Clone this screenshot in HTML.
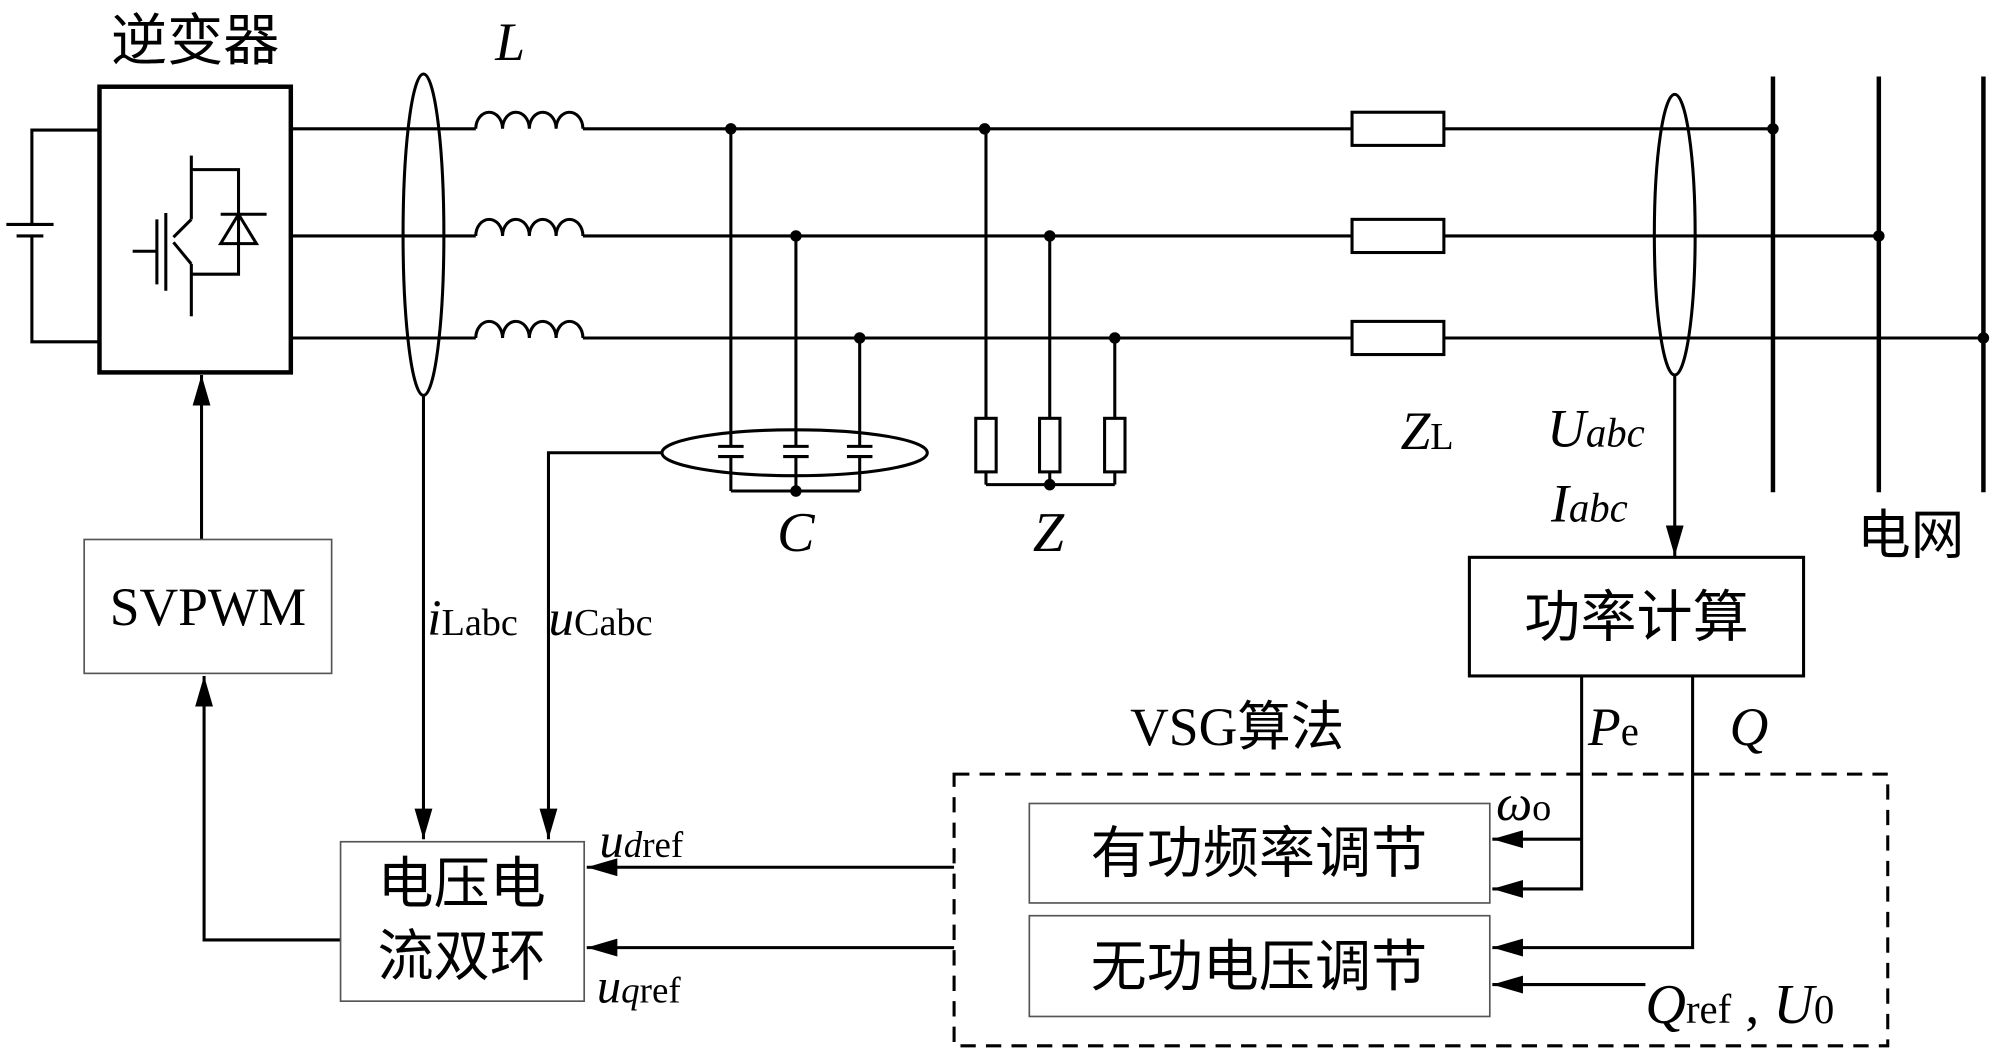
<!DOCTYPE html>
<html><head><meta charset="utf-8"><style>
html,body{margin:0;padding:0;background:#fff;}
svg{display:block;}
text{font-family:"Liberation Serif","Noto Serif CJK SC",serif;fill:#000;}
.cjk{font-family:"Liberation Serif","Noto Sans CJK SC",sans-serif;}
</style></head><body>
<svg width="2000" height="1056" viewBox="0 0 1568 828" preserveAspectRatio="none" xmlns="http://www.w3.org/2000/svg">
<defs>
<marker id="ar" viewBox="0 0 24 14" refX="24" refY="7" markerWidth="24" markerHeight="14" markerUnits="userSpaceOnUse" orient="auto">
<path d="M0,0 L24,7 L0,14 z" fill="#000"/></marker>
</defs>
<g stroke="#000" stroke-width="2.4" fill="none">
<polyline points="78,102 25,102 25,176"/>
<polyline points="25,185 25,268 78,268"/>
<line x1="5" y1="176" x2="42" y2="176"/>
<line x1="13" y1="185" x2="34" y2="185"/>
<rect x="78" y="68" width="150" height="224" stroke-width="3.5"/>
<line x1="150" y1="122" x2="150" y2="172"/>
<line x1="150" y1="207" x2="150" y2="248"/>
<line x1="150" y1="172" x2="136" y2="186"/>
<line x1="136" y1="190" x2="150" y2="207"/>
<line x1="130" y1="167" x2="130" y2="228"/>
<line x1="123" y1="172" x2="123" y2="223"/>
<line x1="104" y1="197" x2="123" y2="197"/>
<polyline points="150,133 187,133 187,215 150,215"/>
<line x1="173" y1="168" x2="209" y2="168"/>
<path d="M187,168 L173,191 L201,191 z"/>
<line x1="228" y1="101" x2="373" y2="101"/><line x1="457" y1="101" x2="1060" y2="101"/><line x1="1132" y1="101" x2="1390" y2="101"/>
<line x1="228" y1="185" x2="373" y2="185"/><line x1="457" y1="185" x2="1060" y2="185"/><line x1="1132" y1="185" x2="1473" y2="185"/>
<line x1="228" y1="265" x2="373" y2="265"/><line x1="457" y1="265" x2="1060" y2="265"/><line x1="1132" y1="265" x2="1555" y2="265"/>
<path d="M373,101 a10.5,13 0 0 1 21,0 a10.5,13 0 0 1 21,0 a10.5,13 0 0 1 21,0 a10.5,13 0 0 1 21,0"/>
<path d="M373,185 a10.5,13 0 0 1 21,0 a10.5,13 0 0 1 21,0 a10.5,13 0 0 1 21,0 a10.5,13 0 0 1 21,0"/>
<path d="M373,265 a10.5,13 0 0 1 21,0 a10.5,13 0 0 1 21,0 a10.5,13 0 0 1 21,0 a10.5,13 0 0 1 21,0"/>
<line x1="1390" y1="60" x2="1390" y2="386" stroke-width="3.5"/>
<line x1="1473" y1="60" x2="1473" y2="386" stroke-width="3.5"/>
<line x1="1555" y1="60" x2="1555" y2="386" stroke-width="3.5"/>
<ellipse cx="332" cy="184" rx="16" ry="126"/>
<ellipse cx="1313" cy="184" rx="16" ry="110"/>
<line x1="573" y1="101" x2="573" y2="350"/><line x1="573" y1="358" x2="573" y2="385"/>
<line x1="624" y1="185" x2="624" y2="350"/><line x1="624" y1="358" x2="624" y2="385"/>
<line x1="674" y1="265" x2="674" y2="350"/><line x1="674" y1="358" x2="674" y2="385"/>
<line x1="563" y1="350" x2="583" y2="350"/><line x1="563" y1="358" x2="583" y2="358"/>
<line x1="614" y1="350" x2="634" y2="350"/><line x1="614" y1="358" x2="634" y2="358"/>
<line x1="664" y1="350" x2="684" y2="350"/><line x1="664" y1="358" x2="684" y2="358"/>
<line x1="573" y1="385" x2="674" y2="385"/>
<ellipse cx="623" cy="355" rx="104" ry="18"/>
<polyline points="519,355 430,355 430,658" marker-end="url(#ar)"/>
<line x1="773" y1="101" x2="773" y2="328"/><line x1="773" y1="370" x2="773" y2="380"/>
<line x1="823" y1="185" x2="823" y2="328"/><line x1="823" y1="370" x2="823" y2="380"/>
<line x1="874" y1="265" x2="874" y2="328"/><line x1="874" y1="370" x2="874" y2="380"/>
<rect x="765" y="328" width="16" height="42"/><rect x="815" y="328" width="16" height="42"/><rect x="866" y="328" width="16" height="42"/>
<line x1="773" y1="380" x2="874" y2="380"/>
<rect x="1060" y="88" width="72" height="26"/><rect x="1060" y="172" width="72" height="26"/><rect x="1060" y="252" width="72" height="26"/>
<line x1="1313" y1="294" x2="1313" y2="436" marker-end="url(#ar)"/>
<line x1="332" y1="310" x2="332" y2="658" marker-end="url(#ar)"/>
<line x1="158" y1="423" x2="158" y2="294" marker-end="url(#ar)"/>
<polyline points="267,737 160,737 160,530" marker-end="url(#ar)"/>
<line x1="748" y1="680" x2="460" y2="680" marker-end="url(#ar)"/>
<line x1="748" y1="743" x2="460" y2="743" marker-end="url(#ar)"/>
<rect x="748" y="607" width="732" height="213" stroke-dasharray="12,8"/>
<polyline points="1240,530 1240,697 1170,697" marker-end="url(#ar)"/>
<line x1="1240" y1="658" x2="1170" y2="658" marker-end="url(#ar)"/>
<polyline points="1327,530 1327,743 1170,743" marker-end="url(#ar)"/>
<line x1="1290" y1="772" x2="1170" y2="772" marker-end="url(#ar)"/>
</g>
<g stroke="#555" stroke-width="1.3" fill="#fff">
<rect x="66" y="423" width="194" height="105"/>
<rect x="267" y="660" width="191" height="125"/>
<rect x="807" y="630" width="361" height="78"/>
<rect x="807" y="718" width="361" height="79"/>
</g>
<rect x="1152" y="437" width="262" height="93" stroke="#000" stroke-width="2.4" fill="#fff"/>
<g fill="#000">
<circle cx="573" cy="101" r="4.5"/><circle cx="772" cy="101" r="4.5"/><circle cx="624" cy="185" r="4.5"/>
<circle cx="823" cy="185" r="4.5"/><circle cx="674" cy="265" r="4.5"/><circle cx="874" cy="265" r="4.5"/>
<circle cx="1390" cy="101" r="4.5"/><circle cx="1473" cy="185" r="4.5"/><circle cx="1555" cy="265" r="4.5"/>
<circle cx="624" cy="385" r="4.5"/><circle cx="823" cy="380" r="4.5"/>
</g>
<text x="153" y="47" font-size="44" text-anchor="middle" class="cjk">逆变器</text>
<text x="400" y="47" font-size="42" font-style="italic" text-anchor="middle">L</text>
<text x="1098" y="352" font-size="42"><tspan font-style="italic">Z</tspan><tspan font-size="30">L</tspan></text>
<text x="1213" y="350" font-size="42"><tspan font-style="italic">U</tspan><tspan font-size="32" font-style="italic">abc</tspan></text>
<text x="1216" y="409" font-size="42"><tspan font-style="italic">I</tspan><tspan font-size="32" font-style="italic">abc</tspan></text>
<text x="1498" y="434" font-size="42" text-anchor="middle" class="cjk">电网</text>
<text x="624" y="432" font-size="44" font-style="italic" text-anchor="middle">C</text>
<text x="822" y="432" font-size="44" font-style="italic" text-anchor="middle">Z</text>
<text x="163" y="490" font-size="42" text-anchor="middle">SVPWM</text>
<text x="335" y="498" font-size="40"><tspan font-style="italic">i</tspan><tspan font-size="30">Labc</tspan></text>
<text x="430" y="498" font-size="40"><tspan font-style="italic">u</tspan><tspan font-size="30">Cabc</tspan></text>
<text x="1283" y="499" font-size="44" text-anchor="middle" class="cjk">功率计算</text>
<text x="970" y="584" font-size="42" text-anchor="middle"><tspan>VSG</tspan><tspan class="cjk">算法</tspan></text>
<text x="1245" y="584" font-size="42"><tspan font-style="italic">P</tspan><tspan font-size="32">e</tspan></text>
<text x="1356" y="584" font-size="42" font-style="italic">Q</text>
<text x="1173" y="643" font-size="40"><tspan font-style="italic">ω</tspan><tspan font-size="30">o</tspan></text>
<text x="987" y="684" font-size="44" text-anchor="middle" class="cjk">有功频率调节</text>
<text x="987" y="773" font-size="44" text-anchor="middle" class="cjk">无功电压调节</text>
<text x="362" y="708" font-size="44" text-anchor="middle" class="cjk">电压电</text>
<text x="362" y="765" font-size="44" text-anchor="middle" class="cjk">流双环</text>
<text x="470" y="672" font-size="38"><tspan font-style="italic">u</tspan><tspan font-size="29"><tspan font-style="italic">d</tspan>ref</tspan></text>
<text x="468" y="786" font-size="38"><tspan font-style="italic">u</tspan><tspan font-size="29"><tspan font-style="italic">q</tspan>ref</tspan></text>
<text x="1290" y="802" font-size="44"><tspan font-style="italic">Q</tspan><tspan font-size="32">ref</tspan><tspan> , </tspan><tspan font-style="italic">U</tspan><tspan font-size="32">0</tspan></text>
</svg>
</body></html>
